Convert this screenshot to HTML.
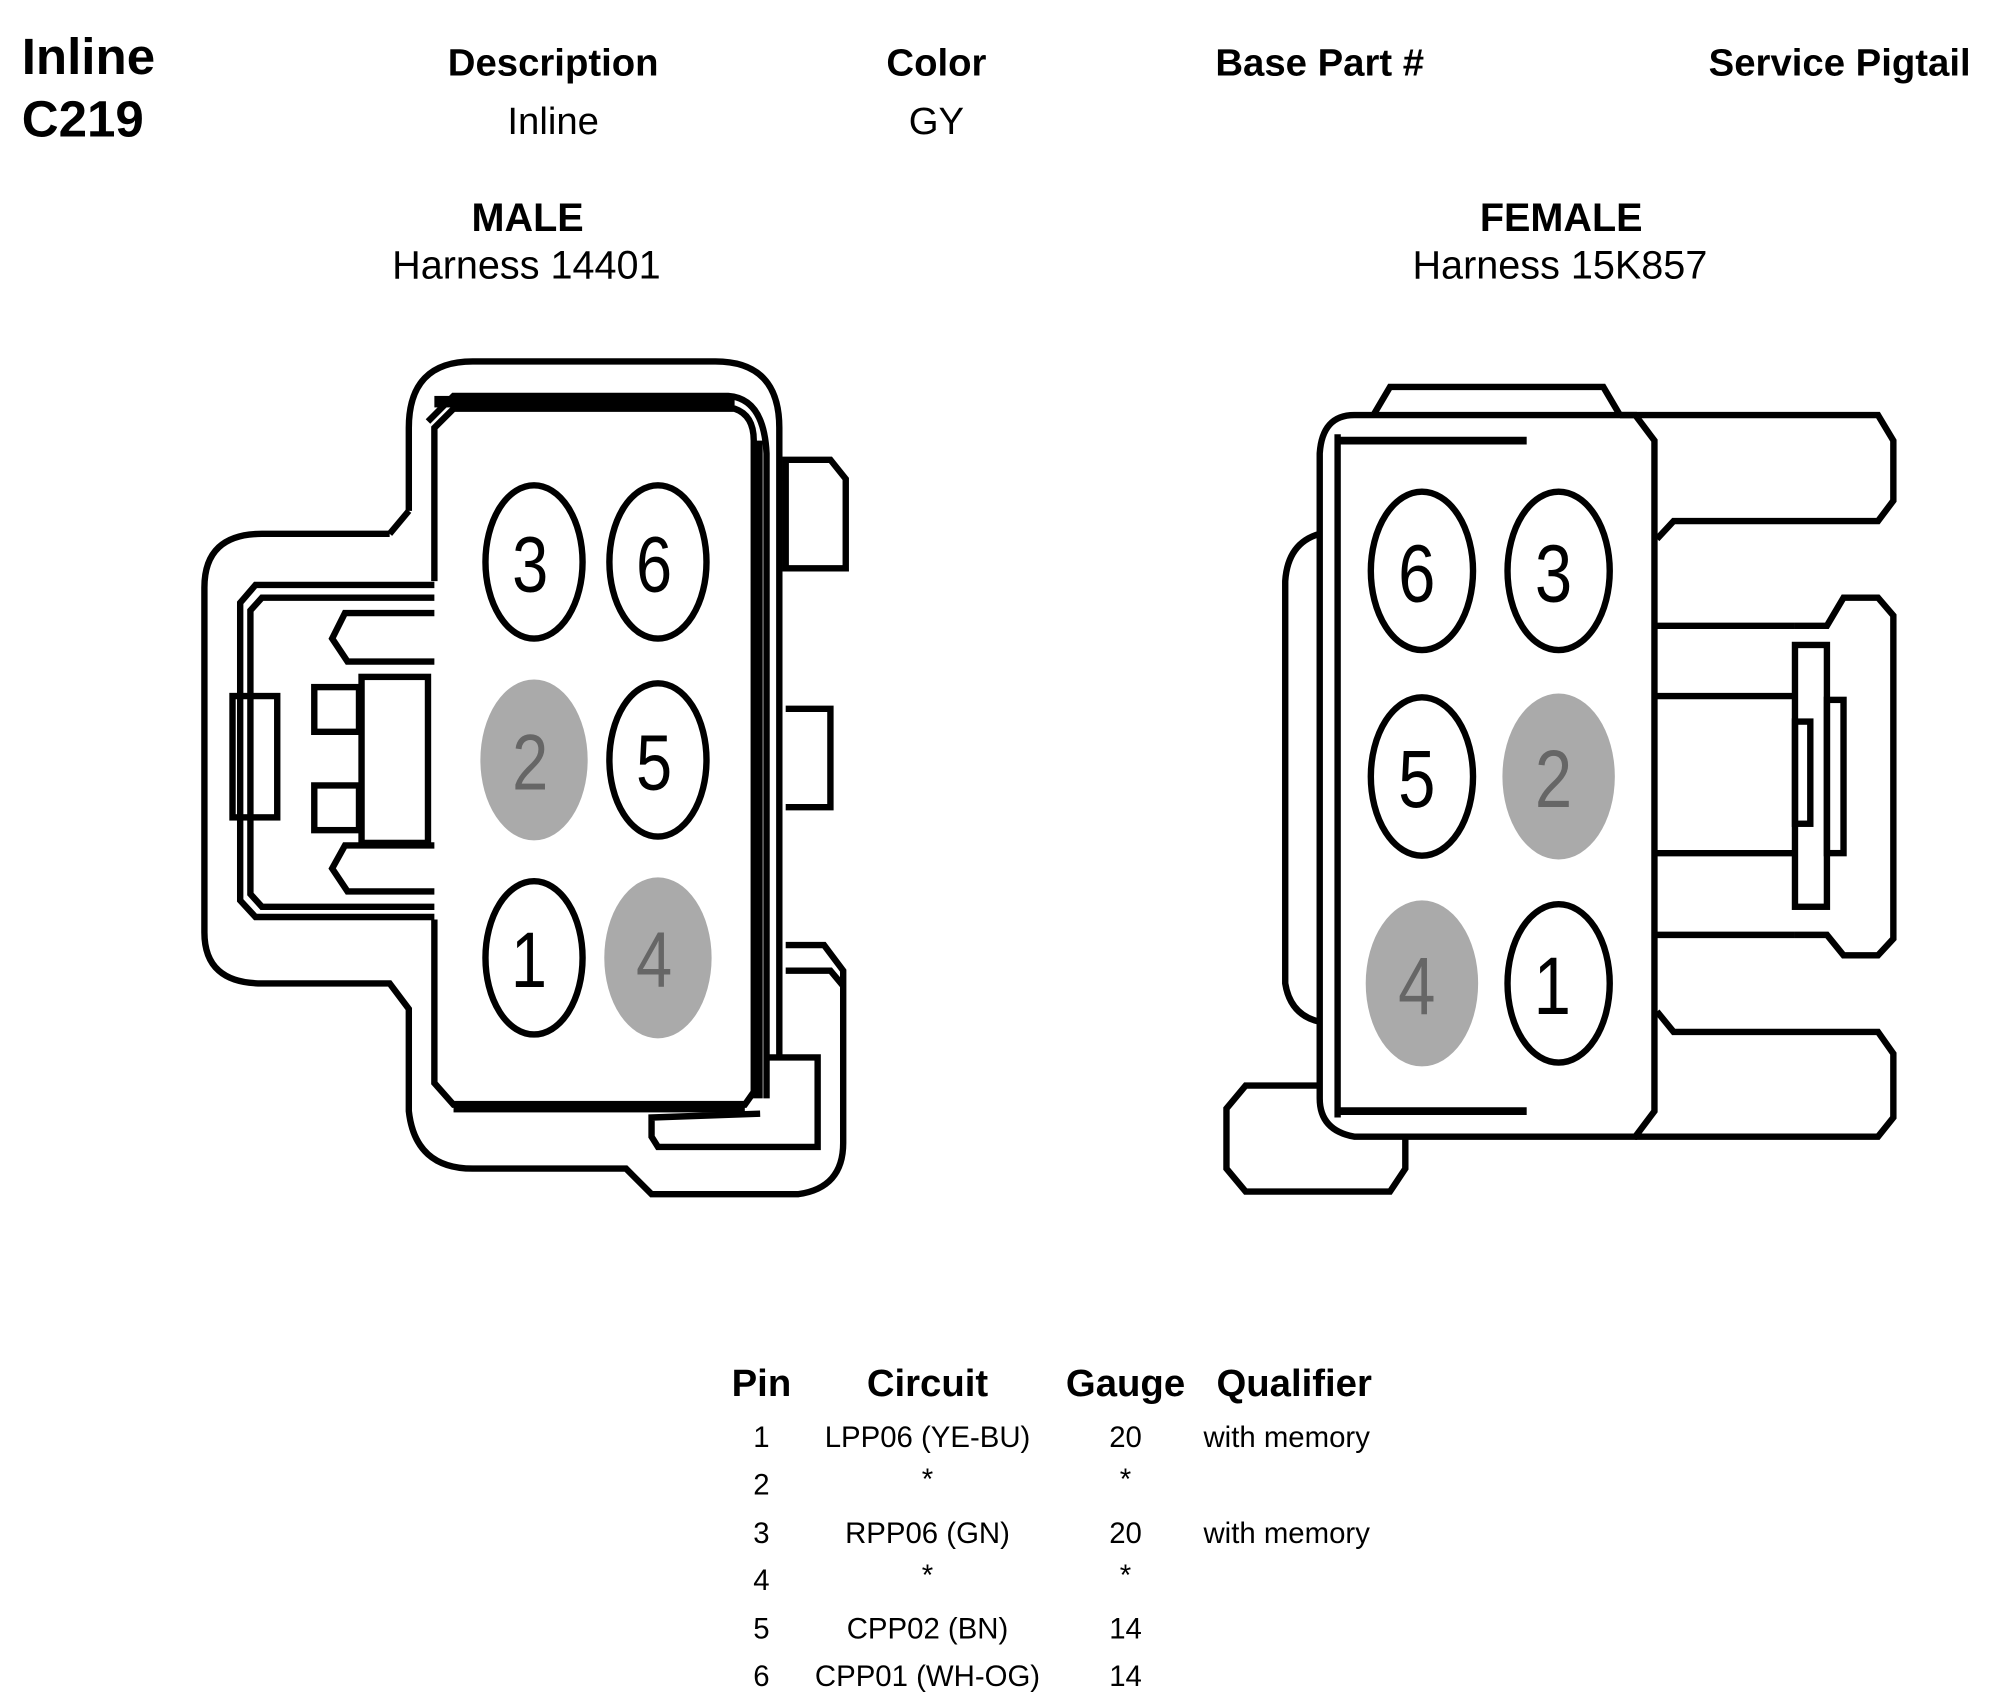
<!DOCTYPE html>
<html><head><meta charset="utf-8"><style>
html,body{margin:0;padding:0;background:#fff}
svg{display:block}
text{font-family:"Liberation Sans",Arial,sans-serif;fill:#000}
.b{font-weight:bold}
</style></head><body>
<svg width="1993" height="1705" viewBox="0 0 1560 1335" preserveAspectRatio="none" xmlns="http://www.w3.org/2000/svg">
<rect width="1560" height="1335" fill="#fff"/>
<!-- header -->
<text x="17" y="58" class="b" font-size="40">Inline</text>
<text x="17" y="107" class="b" font-size="40">C219</text>
<g text-anchor="middle">
<text x="433" y="59" class="b" font-size="30">Description</text>
<text x="433" y="105" font-size="30">Inline</text>
<text x="733" y="59" class="b" font-size="30">Color</text>
<text x="733" y="105" font-size="30">GY</text>
<text x="1033" y="59" class="b" font-size="30">Base Part #</text>
<text x="1440" y="59" class="b" font-size="30">Service Pigtail</text>
<text x="413" y="181" class="b" font-size="31">MALE</text>
<text x="412" y="218" font-size="31">Harness 14401</text>
<text x="1222" y="181" class="b" font-size="31">FEMALE</text>
<text x="1221" y="218" font-size="31">Harness 15K857</text>
</g>

<!-- MALE connector -->
<g fill="none" stroke="#000" stroke-width="5" stroke-linejoin="miter">
<!-- outer -->
<path d="M320,400 L320,335 Q320,283 370,283 L560,283 Q610,283 610,335 L610,830"/>
<path d="M305,418 L320,400"/>
<path d="M305,418 L205,418 Q160,418 160,460 L160,730 Q160,770 205,770 L305,770 L320,790 L320,870 Q325,915 370,915 L490,915 L510,935 L625,935 Q660,930 660,895 L660,760 L645,740 L615,740"/>
<!-- second line -->
<path d="M335,330 L355,310 L570,310 Q598,312 600,355 L600,860"/>
<!-- inner body -->
<path d="M340,455 L340,335 L355,320 L575,320 Q590,325 590,345 L590,855 L583,865 L355,865 L340,848 L340,720"/>
<path d="M340,458 L200,458 L188,472 L188,705 L200,718 L340,718"/>
<path d="M340,468 L205,468 L196,478 L196,700 L205,710 L340,710"/>
<path d="M340,518 L272,518 L260,500 L270,480 L340,480"/>
<path d="M340,698 L272,698 L260,680 L270,662 L340,662"/>
<rect x="182" y="545" width="35" height="95"/>
<rect x="246" y="538" width="35" height="35"/>
<rect x="246" y="615" width="35" height="35"/>
<rect x="283" y="530" width="52" height="130"/>
<path d="M615,360 L650,360 L662,375 L662,445 L615,445 Z"/>
<path d="M615,555 L650,555 L650,632 L615,632"/>
<path d="M615,760 L650,760 L660,772"/>
<path d="M600,828 L640,828 L640,898 L515,898 L510,890 L510,875 L595,872"/>
</g>
<rect x="340" y="310" width="235" height="9" fill="#000"/>
<rect x="355" y="862" width="228" height="9" fill="#000"/>
<rect x="588" y="345" width="9" height="515" fill="#000"/>
<g stroke="#000" stroke-width="5" fill="#fff">
<ellipse cx="418" cy="440" rx="38" ry="60"/>
<ellipse cx="515" cy="440" rx="38" ry="60"/>
<ellipse cx="515" cy="595" rx="38" ry="60"/>
<ellipse cx="418" cy="750" rx="38" ry="60"/>
</g>
<ellipse cx="418" cy="595" rx="42" ry="63" fill="#aaa"/>
<ellipse cx="515" cy="750" rx="42" ry="63" fill="#aaa"/>
<g font-size="62" text-anchor="middle">
<text x="0" y="0" transform="translate(415,463) scale(0.82,1)">3</text>
<text x="0" y="0" transform="translate(512,463) scale(0.82,1)">6</text>
<text x="0" y="0" transform="translate(415,618) scale(0.82,1)" style="fill:#666">2</text>
<text x="0" y="0" transform="translate(512,618) scale(0.82,1)">5</text>
<text x="0" y="0" transform="translate(414,773) scale(0.82,1)">1</text>
<text x="0" y="0" transform="translate(512,773) scale(0.82,1)" style="fill:#666">4</text>
</g>

<!-- FEMALE connector -->
<g fill="none" stroke="#000" stroke-width="5">
<path d="M1075,325 L1088,303 L1255,303 L1268,325"/>
<path d="M1060,325 L1280,325 L1295,345 L1295,870 L1280,890 L1060,890 Q1033,885 1033,860 L1033,355 Q1035,325 1060,325 Z"/>
<path d="M1047,340 L1047,875"/>
<path d="M1047,345 L1195,345" stroke-width="6"/>
<path d="M1047,870 L1195,870" stroke-width="6"/>
<path d="M1033,418 Q1008,425 1006,455 L1006,770 Q1010,795 1033,800"/>
<path d="M1268,325 L1470,325 L1482,345 L1482,392 L1470,408 L1310,408 L1297,422"/>
<path d="M1295,490 L1405,490"/>
<path d="M1405,490 L1430,490 L1443,468 L1470,468 L1482,482 L1482,735 L1470,748 L1443,748 L1430,732 L1405,732"/>
<path d="M1295,732 L1405,732"/>
<rect x="1405" y="505" width="25" height="205"/>
<rect x="1430" y="548" width="13" height="120"/>
<rect x="1405" y="565" width="12" height="80"/>
<path d="M1295,545 L1405,545 M1295,668 L1405,668"/>
<path d="M1297,792 L1310,808 L1470,808 L1482,825 L1482,875 L1470,890 L1280,890"/>
<path d="M1033,850 L975,850 L960,868 L960,915 L975,933 L1088,933 L1100,915 L1100,890"/>
</g>
<g stroke="#000" stroke-width="5" fill="#fff">
<ellipse cx="1113" cy="447" rx="40" ry="62"/>
<ellipse cx="1220" cy="447" rx="40" ry="62"/>
<ellipse cx="1113" cy="608" rx="40" ry="62"/>
<ellipse cx="1220" cy="770" rx="40" ry="62"/>
</g>
<ellipse cx="1220" cy="608" rx="44" ry="65" fill="#aaa"/>
<ellipse cx="1113" cy="770" rx="44" ry="65" fill="#aaa"/>
<g font-size="64" text-anchor="middle">
<text x="0" y="0" transform="translate(1109,471) scale(0.82,1)">6</text>
<text x="0" y="0" transform="translate(1216,471) scale(0.82,1)">3</text>
<text x="0" y="0" transform="translate(1109,632) scale(0.82,1)">5</text>
<text x="0" y="0" transform="translate(1216,632) scale(0.82,1)" style="fill:#666">2</text>
<text x="0" y="0" transform="translate(1109,794) scale(0.82,1)" style="fill:#666">4</text>
<text x="0" y="0" transform="translate(1215,794) scale(0.82,1)">1</text>
</g>

<!-- table -->
<g text-anchor="middle">
<text x="596" y="1093" class="b" font-size="30">Pin</text>
<text x="726" y="1093" class="b" font-size="30">Circuit</text>
<text x="881" y="1093" class="b" font-size="30">Gauge</text>
<text x="1013" y="1093" class="b" font-size="30">Qualifier</text>
<g font-size="23">
<text x="596" y="1133">1</text><text x="726" y="1133">LPP06 (YE-BU)</text><text x="881" y="1133">20</text>
<text x="596" y="1170">2</text><text x="726" y="1166">*</text><text x="881" y="1166">*</text>
<text x="596" y="1208">3</text><text x="726" y="1208">RPP06 (GN)</text><text x="881" y="1208">20</text>
<text x="596" y="1245">4</text><text x="726" y="1241">*</text><text x="881" y="1241">*</text>
<text x="596" y="1283">5</text><text x="726" y="1283">CPP02 (BN)</text><text x="881" y="1283">14</text>
<text x="596" y="1320">6</text><text x="726" y="1320">CPP01 (WH-OG)</text><text x="881" y="1320">14</text>
</g>
</g>
<g font-size="23">
<text x="942" y="1133">with memory</text>
<text x="942" y="1208">with memory</text>
</g>
</svg>
</body></html>
